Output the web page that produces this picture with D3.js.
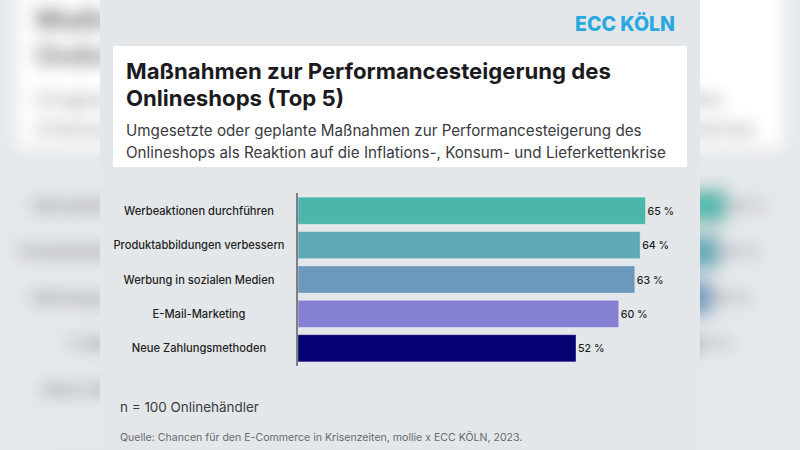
<!DOCTYPE html>
<html>
<head>
<meta charset="utf-8">
<script src="https://cdn.jsdelivr.net/npm/d3@7"></script>
<style>
  html, body { margin: 0; padding: 0; background: #e4e7ea; }
  svg { display: block; }
</style>
</head>
<body>
<svg id="chart" width="800" height="450"></svg>
<script>
const categories = [
  "Werbeaktionen durchführen",
  "Produktabbildungen verbessern",
  "Werbung in sozialen Medien",
  "E-Mail-Marketing",
  "Neue Zahlungsmethoden"
];
const values = [65, 64, 63, 60, 52];
const barColors = ["#4db6aa", "#5fa9b5", "#6b98bb", "#8680d3", "#070073"];
const titleLines = ["Maßnahmen zur Performancesteigerung des", "Onlineshops (Top 5)"];
const subtitleLines = [
  "Umgesetzte oder geplante Maßnahmen zur Performancesteigerung des",
  "Onlineshops als Reaktion auf die Inflations-, Konsum- und Lieferkettenkrise"
];
const brand = "ECC KÖLN";
const sampleNote = "n = 100 Onlinehändler";
const sourceNote = "Quelle: Chancen für den E-Commerce in Krisenzeiten, mollie x ECC KÖLN, 2023.";

const FONT = "Inter, 'Open Sans', 'DejaVu Sans', sans-serif";
const svg = d3.select("#chart");

const measurer = svg.append("text").attr("x", -1000).attr("y", -1000).style("font-family", FONT);
function fitSize(text, weight, target) {
  measurer.style("font-weight", weight).style("font-size", "100px").text(text);
  const w = measurer.node().getComputedTextLength();
  return 100 * target / w;
}
const sz = {
  brand: fitSize(brand, 800, 100),
  title: fitSize(titleLines[0], 700, 485),
  subtitle: fitSize(subtitleLines[0], 400, 516),
  label: fitSize(categories[0], 500, 150),
  note: fitSize(sampleNote, 400, 139),
  source: fitSize(sourceNote, 400, 403)
};
sz.value = sz.label * 0.95;
measurer.remove();

const x = d3.scaleLinear().domain([0, 65]).range([298, 645.5]);
const y = d3.scaleBand().domain(categories).range([193, 366]).paddingInner(0.21).paddingOuter(0.12);

function drawChart(g) {
  g.append("rect").attr("x", 100).attr("y", -100).attr("width", 600).attr("height", 650).attr("fill", "#e4e7ea");

  g.append("text").attr("x", 675).attr("y", 31).attr("text-anchor", "end")
    .style("font-family", FONT).style("font-weight", 800).style("font-size", sz.brand + "px")
    .attr("fill", "#2aa8e2").text(brand);

  g.append("rect").attr("x", 113).attr("y", 46).attr("width", 574).attr("height", 121).attr("fill", "#ffffff");

  g.selectAll(null).data(titleLines).join("text")
    .attr("x", 126).attr("y", (d, i) => 79 + i * 27)
    .style("font-family", FONT).style("font-weight", 700).style("font-size", sz.title + "px")
    .attr("fill", "#1b1b1f").text(d => d);

  g.selectAll(null).data(subtitleLines).join("text")
    .attr("x", 126).attr("y", (d, i) => 135.5 + i * 22.5)
    .style("font-family", FONT).style("font-weight", 400).style("font-size", sz.subtitle + "px")
    .attr("fill", "#3a3a40").text(d => d);

  g.append("g").selectAll("rect").data(categories).join("rect")
    .attr("x", x(0))
    .attr("y", d => y(d))
    .attr("width", (d, i) => x(values[i]) - x(0))
    .attr("height", y.bandwidth())
    .attr("fill", (d, i) => barColors[i])
    .attr("stroke", "rgba(255,255,255,0.35)")
    .attr("stroke-width", 1);

  g.append("line").attr("x1", 297).attr("x2", 297).attr("y1", 193).attr("y2", 366)
    .attr("stroke", "#5a5d63").attr("stroke-width", 1.5);

  g.selectAll(null).data(categories).join("text")
    .attr("x", 199).attr("y", d => y(d) + y.bandwidth() / 2 + 4)
    .attr("text-anchor", "middle")
    .style("font-family", FONT).style("font-weight", 500).style("font-size", sz.label + "px")
    .attr("fill", "#1f1f24").text(d => d);

  g.selectAll(null).data(categories).join("text")
    .attr("x", (d, i) => x(values[i]) + 2).attr("y", d => y(d) + y.bandwidth() / 2 + 4)
    .style("font-family", FONT).style("font-weight", 500).style("font-size", sz.value + "px")
    .attr("fill", "#1f1f24").text((d, i) => values[i] + " %");

  g.append("text").attr("x", 120).attr("y", 412)
    .style("font-family", FONT).style("font-weight", 400).style("font-size", sz.note + "px")
    .attr("fill", "#3a3a40").text(sampleNote);

  g.append("text").attr("x", 120).attr("y", 441)
    .style("font-family", FONT).style("font-weight", 400).style("font-size", sz.source + "px")
    .attr("fill", "#666a70").text(sourceNote);
}

// Backdrop: an enlarged, blurred picture of the same chart (rendered as an image)
const off = d3.create("svg").attr("xmlns", "http://www.w3.org/2000/svg")
  .attr("width", 800).attr("height", 450);
drawChart(off);
const src = new XMLSerializer().serializeToString(off.node());
const dataUrl = "data:image/svg+xml;charset=utf-8," + encodeURIComponent(src);

const defs = svg.append("defs");
defs.append("filter").attr("id", "blur")
  .attr("filterUnits", "userSpaceOnUse")
  .attr("x", -200).attr("y", -200).attr("width", 1200).attr("height", 850)
  .append("feGaussianBlur").attr("stdDeviation", 8);
defs.append("clipPath").attr("id", "panelClip")
  .append("rect").attr("x", 100).attr("y", 0).attr("width", 600).attr("height", 450);

svg.append("g").attr("filter", "url(#blur)")
  .append("image")
  .attr("href", dataUrl)
  .attr("width", 800).attr("height", 450)
  .attr("transform", "translate(400,225) scale(1.3333) translate(-400,-225)");
svg.append("rect").attr("width", 800).attr("height", 450).attr("fill", "#ffffff").attr("opacity", 0.06);

const front = svg.append("g").attr("clip-path", "url(#panelClip)");
drawChart(front);
</script>
</body>
</html>
